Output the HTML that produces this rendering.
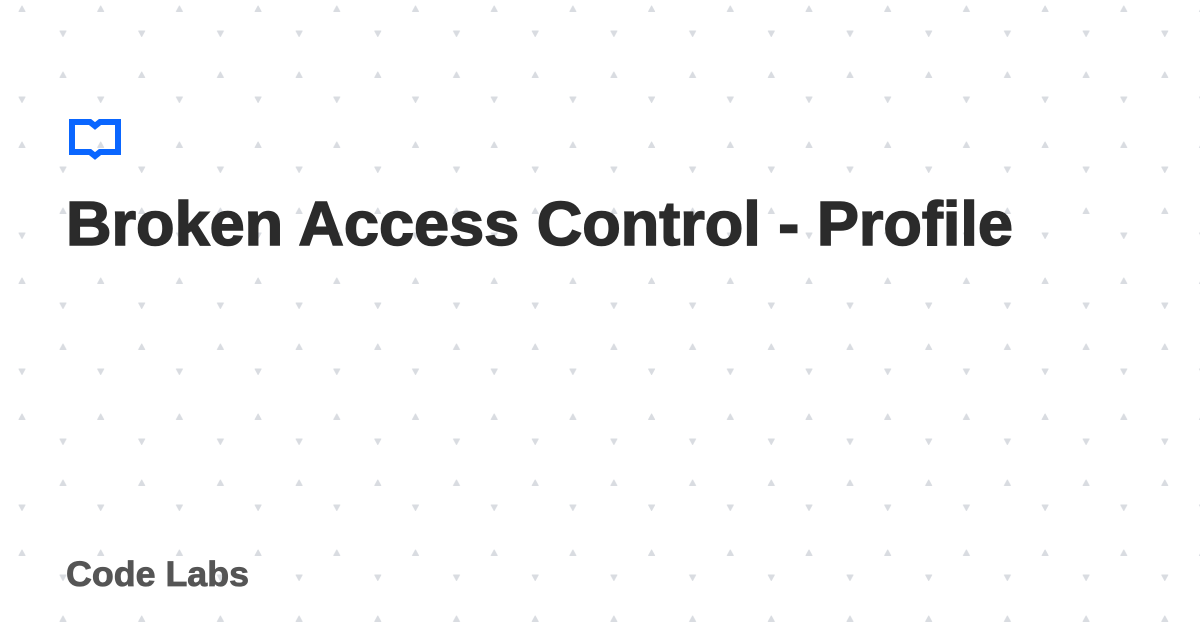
<!DOCTYPE html>
<html><head><meta charset="utf-8"><style>
html,body{margin:0;padding:0;background:#fff;}
body{width:1200px;height:630px;overflow:hidden;position:relative;}
svg{position:absolute;left:0;top:0;}
</style></head><body>
<svg width="1200" height="630" viewBox="0 0 1200 630" xmlns="http://www.w3.org/2000/svg">
<defs>
<pattern id="p" x="0" y="0" width="78.7" height="136" patternUnits="userSpaceOnUse">
<g fill="#d9dce1" stroke="#d9dce1" stroke-width="1" stroke-linejoin="round">
<path d="M19 11.5 L22 6 L25 11.5 Z"/>
<path d="M19 97 L22 102.5 L25 97 Z"/>
<path d="M60 31 L63 36.5 L66 31 Z"/>
<path d="M60 77.5 L63 72 L66 77.5 Z"/>
</g>
</pattern>
</defs>
<rect width="1200" height="630" fill="url(#p)"/>
<g fill="none" stroke="#0a66ff" stroke-width="6">
<path d="M72 122 H90 L95 126 L100 122 H118 V152 H100 L95 156 L90 152 H72 Z"/>
</g>
<path d="M90 152 L95 159 L100 152 Z" fill="#0a66ff"/>
<text x="66" y="245" font-family="Liberation Sans, sans-serif" font-weight="bold" font-size="62" fill="#2b2b2b" stroke="#2b2b2b" stroke-width="1.5" textLength="947" lengthAdjust="spacingAndGlyphs">Broken Access Control - Profile</text>
<text x="66" y="586" font-family="Liberation Sans, sans-serif" font-weight="bold" font-size="35" fill="#555" stroke="#555" stroke-width="0.8" textLength="183" lengthAdjust="spacingAndGlyphs">Code Labs</text>
</svg>
</body></html>
